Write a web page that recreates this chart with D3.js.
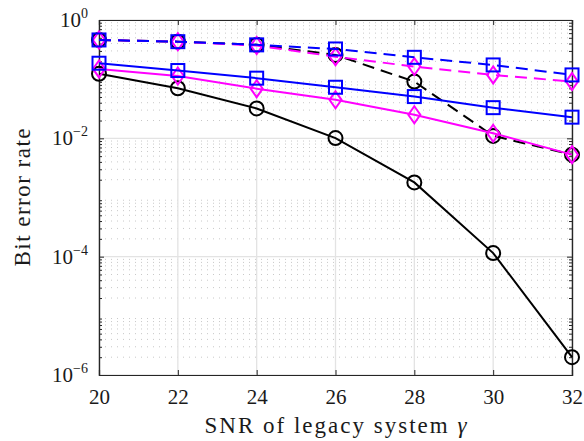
<!doctype html>
<html>
<head>
<meta charset="utf-8" />
<title>BER vs SNR</title>
<style>
  html,body{margin:0;background:#fff}
  svg text{font-family:"Liberation Serif","DejaVu Serif",serif;fill:#1a1a1a}
</style>
<script src="https://cdn.jsdelivr.net/npm/d3@7"></script>
</head>
<body>
<svg id="chart" width="584" height="441"></svg>
<script>
// ---- data ----
const snr = [20, 22, 24, 26, 28, 30, 32];
const berBlackSolid    = [0.123, 0.0703, 0.032, 0.0101, 0.0018, 1.15e-4, 2.0e-6];
const berBlackDashed   = [0.46, 0.43, 0.38, 0.257, 0.091, 0.011, 0.0053];
const berMagentaSolid  = [0.149, 0.113, 0.069, 0.0447, 0.025, 0.0122, 0.0053];
const berMagentaDashed = [0.46, 0.43, 0.37, 0.24, 0.163, 0.118, 0.091];
const berBlueSolid     = [0.186, 0.14, 0.104, 0.073, 0.0508, 0.033, 0.0228];
const berBlueDashed    = [0.46, 0.43, 0.38, 0.324, 0.234, 0.174, 0.118];
const xTicks = [20, 22, 24, 26, 28, 30, 32];
const yExps  = [-6, -4, -2, 0];

// draw order: black first, then magenta, blue on top
const series = [
  {y: berBlackSolid,    color: '#000',    dash: null,   marker: 'circle'},
  {y: berBlackDashed,   color: '#000',    dash: '12,7', marker: 'circle'},
  {y: berMagentaSolid,  color: '#ff00ff', dash: null,   marker: 'diamond'},
  {y: berMagentaDashed, color: '#ff00ff', dash: '12,7', marker: 'diamond'},
  {y: berBlueSolid,     color: '#0000ff', dash: null,   marker: 'square'},
  {y: berBlueDashed,    color: '#0000ff', dash: '12,7', marker: 'square'}
];

const m = {left: 99, right: 12, top: 20, bottom: 66};
const W = 584, H = 441;
const svg = d3.select('#chart');

const x = d3.scaleLinear().domain([20, 32]).range([m.left, W - m.right]);
const y = d3.scaleLog().domain([1e-6, 1]).range([H - m.bottom, m.top]);

// ---- grid ----
const minor = [];
for (let e = -6; e < 0; e++) for (let k = 2; k <= 9; k++) minor.push(k * Math.pow(10, e));

const grid = svg.append('g');
grid.selectAll('line.minor').data(minor).join('line')
  .attr('x1', x(20)).attr('x2', x(32))
  .attr('y1', d => y(d)).attr('y2', d => y(d))
  .attr('stroke', '#c8c8c8').attr('stroke-width', 1)
  .attr('stroke-dasharray', '1,5');
grid.selectAll('line.vx').data(xTicks).join('line')
  .attr('x1', d => x(d)).attr('x2', d => x(d))
  .attr('y1', y(1)).attr('y2', y(1e-6))
  .attr('stroke', '#e3e3e3').attr('stroke-width', 1.3);
grid.selectAll('line.hy').data(yExps).join('line')
  .attr('x1', x(20)).attr('x2', x(32))
  .attr('y1', d => y(Math.pow(10, d))).attr('y2', d => y(Math.pow(10, d)))
  .attr('stroke', '#e3e3e3').attr('stroke-width', 1.3);

// ---- axes (ticks inside, box) ----
const axColor = '#262626';
const gB = svg.append('g').attr('transform', `translate(0,${y(1e-6)})`)
  .call(d3.axisBottom(x).tickValues(xTicks).tickSize(-5).tickPadding(14).tickFormat(d3.format('d')));
const gT = svg.append('g').attr('transform', `translate(0,${y(1)})`)
  .call(d3.axisTop(x).tickValues(xTicks).tickSize(-5).tickFormat(''));
const gL = svg.append('g').attr('transform', `translate(${x(20)},0)`)
  .call(d3.axisLeft(y).tickValues(minor).tickSize(-3).tickFormat(''));
const gR = svg.append('g').attr('transform', `translate(${x(32)},0)`)
  .call(d3.axisRight(y).tickValues(minor).tickSize(-3).tickFormat(''));
const gLM = svg.append('g').attr('transform', `translate(${x(20)},0)`)
  .call(d3.axisLeft(y).tickValues(yExps.map(e => Math.pow(10, e))).tickSize(-5).tickFormat(''));
const gRM = svg.append('g').attr('transform', `translate(${x(32)},0)`)
  .call(d3.axisRight(y).tickValues(yExps.map(e => Math.pow(10, e))).tickSize(-5).tickFormat(''));
[gB, gT, gL, gR, gLM, gRM].forEach(g => {
  g.select('.domain').attr('stroke', axColor).attr('stroke-width', 1.2);
  g.selectAll('.tick line').attr('stroke', axColor).attr('stroke-width', 1);
});
gB.selectAll('.tick text').attr('font-size', 21).attr('fill', '#1a1a1a')
  .style('font-family', '"Liberation Serif",serif');

// y tick labels 10^e
const yl = svg.append('g');
yExps.forEach(e => {
  const t = yl.append('text')
    .attr('x', x(20) - 11).attr('y', y(Math.pow(10, e)) + 7)
    .attr('text-anchor', 'end').attr('font-size', 21);
  t.append('tspan').text('10');
  t.append('tspan').attr('dy', -9).attr('font-size', 14).text(e === 0 ? '0' : '\u2212' + (-e));
});

// axis titles
svg.append('text').attr('x', (x(20) + x(32)) / 2).attr('y', 433)
  .attr('text-anchor', 'middle').attr('font-size', 23)
  .attr('textLength', 262).attr('lengthAdjust', 'spacing')
  .html('SNR of legacy system <tspan font-style="italic">\u03b3</tspan>');
svg.append('text').attr('transform', `translate(30,${(y(1) + y(1e-6)) / 2}) rotate(-90)`)
  .attr('text-anchor', 'middle').attr('font-size', 23)
  .attr('textLength', 138).attr('lengthAdjust', 'spacing')
  .text('Bit error rate');

// ---- lines + markers ----
const line = d3.line().x((d, i) => x(snr[i])).y(d => y(d));
const plot = svg.append('g');
series.forEach(s => {
  const g = plot.append('g');
  g.append('path').datum(s.y).attr('d', line)
    .attr('fill', 'none').attr('stroke', s.color).attr('stroke-width', 2)
    .attr('stroke-dasharray', s.dash);
  const pts = g.selectAll('.mk').data(s.y).join('g')
    .attr('transform', (d, i) => `translate(${x(snr[i])},${y(d)})`);
  if (s.marker === 'circle') {
    pts.append('circle').attr('r', 7);
  } else if (s.marker === 'square') {
    pts.append('rect').attr('x', -6.5).attr('y', -6.5).attr('width', 13).attr('height', 13);
  } else {
    pts.append('path').attr('d', 'M0,-8.5L6,0L0,8.5L-6,0Z');
  }
  pts.selectAll('*').attr('fill', 'none').attr('stroke', s.color).attr('stroke-width', 2);
});
</script>
</body>
</html>
